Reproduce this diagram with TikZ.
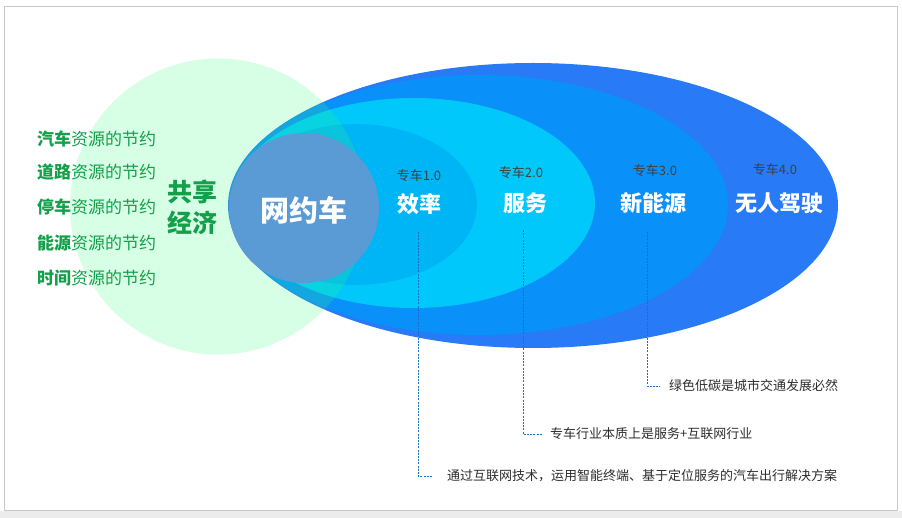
\documentclass[tikz,border=0pt]{standalone}
\usepackage{fontspec}
\setmainfont{Noto Sans CJK SC}
\definecolor{frame}{RGB}{200,200,200}
\definecolor{strip}{RGB}{236,236,236}
\definecolor{eA}{RGB}{40,122,246}
\definecolor{eB}{RGB}{10,145,249}
\definecolor{eC}{RGB}{0,200,250}
\definecolor{eD}{RGB}{0,181,246}
\definecolor{core}{RGB}{91,155,213}
\definecolor{share}{RGB}{50,255,125}
\definecolor{lgreen}{RGB}{20,160,75}
\definecolor{vtext}{RGB}{64,64,64}
\definecolor{ntext}{RGB}{45,45,45}
\definecolor{conn}{RGB}{30,110,200}
\tikzset{
  listitem/.style={anchor=west, inner sep=0pt, text=lgreen, font=\fontsize{17}{20}\selectfont},
  bigword/.style={inner sep=0pt, text=lgreen, font=\bfseries\fontsize{25}{28}\selectfont},
  version/.style={inner sep=0pt, text=vtext, font=\fontsize{13}{15}\selectfont},
  stage/.style={inner sep=0pt, text=white, font=\bfseries\fontsize{22}{25}\selectfont},
  note/.style={anchor=west, inner ysep=0pt, text=ntext, font=\fontsize{13}{15}\selectfont},
  connline/.style={draw=conn, line width=0.8pt, dash pattern=on 2pt off 1.2pt},
}
\begin{document}
\begin{tikzpicture}[x=1pt,y=-1pt]
\useasboundingbox (0,0) rectangle (902,518);
\fill[white] (0,0) rectangle (902,518);
\fill[strip] (0,511) rectangle (902,518);
\draw[frame, line width=1.2pt] (4.5,6.5) rectangle (897.5,510.5);
% ellipses
\fill[eA] (533,205.5) ellipse [x radius=305pt, y radius=142.5pt];
\fill[eB] (478.5,205) ellipse [x radius=249.5pt, y radius=130pt];
\fill[eC] (413.5,203) ellipse [x radius=181.5pt, y radius=105pt];
\fill[eD] (355.5,204.5) ellipse [x radius=121.5pt, y radius=80.5pt];
% shared economy circle
\fill[share, fill opacity=0.2] (218,206.5) circle [radius=148pt];
% core circle
\fill[core] (304,208) circle [radius=75pt];
% left list
\node[listitem] (l1) at (37,139) {\textbf{汽车}资源的节约};
\node[listitem] (l2) at (37,172) {\textbf{道路}资源的节约};
\node[listitem] (l3) at (37,207) {\textbf{停车}资源的节约};
\node[listitem] (l4) at (37,243) {\textbf{能源}资源的节约};
\node[listitem] (l5) at (37,278) {\textbf{时间}资源的节约};
\node[bigword] (g1) at (192,192) {共享};
\node[bigword] (g2) at (192,223) {经济};
\node[inner sep=0pt, text=white, font=\bfseries\fontsize{29}{32}\selectfont] (core) at (304,210) {网约车};
% stages
\node[version] (v1) at (419,176) {专车1.0};
\node[stage] (s1) at (419,204) {效率};
\node[version] (v2) at (521,173) {专车2.0};
\node[stage] (s2) at (525,203) {服务};
\node[version] (v3) at (655,171) {专车3.0};
\node[stage] (s3) at (653,203) {新能源};
\node[version] (v4) at (775,170) {专车4.0};
\node[stage] (s4) at (779,203) {无人驾驶};
% notes
\coordinate (c1) at (418,232);
\coordinate (c2) at (523,230);
\coordinate (c3) at (647,232);
\node[note, inner xsep=15pt] (n1) at (432,476) {通过互联网技术，运用智能终端、基于定位服务的汽车出行解决方案};
\node[note, inner xsep=8pt] (n2) at (542,434) {专车行业本质上是服务+互联网行业};
\node[note, inner xsep=9pt] (n3) at (660,386) {绿色低碳是城市交通发展必然};
\draw[connline] (c1) |- (n1.west);
\draw[connline] (c2) |- (n2.west);
\draw[connline] (c3) |- (n3.west);
\end{tikzpicture}
\end{document}
